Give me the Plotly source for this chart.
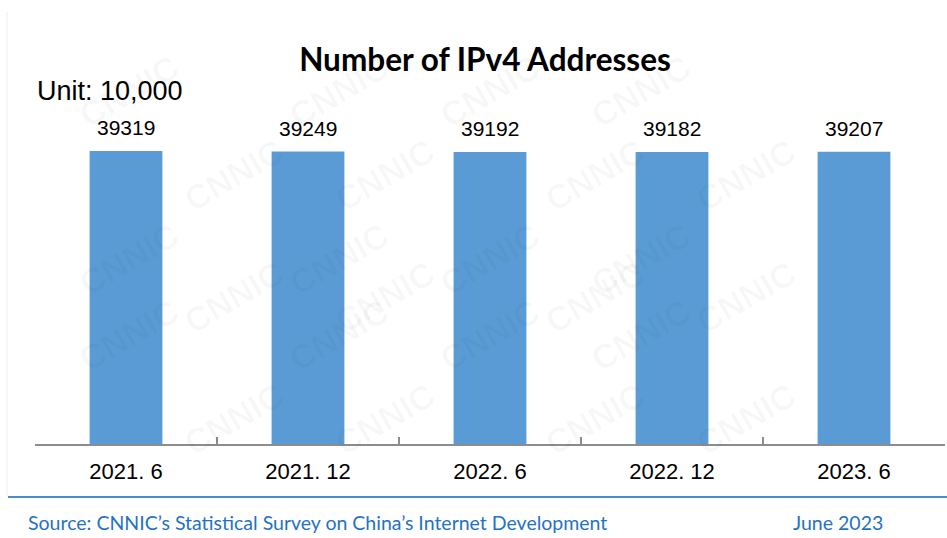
import plotly.graph_objects as go

categories = ["2021. 6", "2021. 12", "2022. 6", "2022. 12", "2023. 6"]
values = [39319, 39249, 39192, 39182, 39207]

title_text = "Number of IPv4 Addresses"
unit_text = "Unit: 10,000"
source_text = "Source: CNNIC\u2019s Statistical Survey on China\u2019s Internet Development"
date_text = "June 2023"
watermark_text = "CNNIC"

W, H = 947, 538
L, R, T, B = 35, 2, 100, 94
plot_h = H - T - B
plot_w = W - L - R

def py(p):  # pixel y -> paper y
    return (H - B - p) / plot_h

def px(p):  # pixel x -> paper x
    return (p - L) / plot_w

fig = go.Figure()
fig.add_trace(go.Bar(
    x=categories, y=values, width=0.4,
    marker=dict(color="#5b9bd5", line=dict(width=0)),
    hoverinfo="x+y",
))

annotations = []
# faint diagonal watermark grid
for row in range(6):
    for col in range(5):
        xp = 70 + col * 210 + (row % 2) * 105
        yp = 45 + row * 84
        if xp > 900 or yp > 510:
            continue
        annotations.append(dict(
            xref="paper", yref="paper", x=px(xp), y=py(yp),
            text="<b>" + watermark_text + "</b>", showarrow=False, textangle=-30,
            font=dict(family="Liberation Sans", size=34, color="rgba(0,0,0,0.03)"),
        ))

for c, v in zip(categories, values):
    annotations.append(dict(
        x=c, y=v, xref="x", yref="y", text=str(v), showarrow=False,
        yanchor="bottom", yshift=10,
        font=dict(family="Liberation Sans", size=21, color="#000000"),
    ))

annotations.append(dict(
    xref="paper", yref="paper", x=px(35), y=py(91), xanchor="left", yanchor="middle",
    text=unit_text, showarrow=False,
    font=dict(family="Liberation Sans", size=27, color="#000000"),
))
annotations.append(dict(
    xref="paper", yref="paper", x=px(26), y=py(522), xanchor="left", yanchor="middle",
    text=source_text, showarrow=False,
    font=dict(family="Lato", size=19.5, color="#1f73c4"),
))
annotations.append(dict(
    xref="paper", yref="paper", x=px(885), y=py(522), xanchor="right", yanchor="middle",
    text=date_text, showarrow=False,
    font=dict(family="Lato", size=19.5, color="#1f73c4"),
))

fig.update_layout(
    width=W, height=H,
    margin=dict(l=L, r=R, t=T, b=B),
    paper_bgcolor="white", plot_bgcolor="rgba(0,0,0,0)",
    showlegend=False,
    title=dict(
        text="<b>" + title_text + "</b>", x=px(485), xref="paper", xanchor="center",
        y=1 - 60 / H, yref="container", yanchor="middle",
        font=dict(family="Lato", size=31.5, color="#000000"),
    ),
    annotations=annotations,
    shapes=[
        dict(type="line", xref="paper", yref="paper",
             x0=px(8), x1=px(947), y0=py(497), y1=py(497),
             line=dict(color="#4a8bd0", width=2)),
        dict(type="line", xref="paper", yref="paper",
             x0=px(7), x1=px(7), y0=py(12), y1=py(496),
             line=dict(color="#eeeeee", width=1)),
    ],
)

fig.update_xaxes(
    type="category", range=[-0.5, 4.5],
    showline=True, linecolor="#8c8c8c", linewidth=1.5,
    ticks="inside", tickson="boundaries", ticklen=7, tickcolor="#8c8c8c", tickwidth=1.5,
    tickfont=dict(family="Liberation Sans", size=22, color="#000000"),
    ticklabelstandoff=7,
    showgrid=False, zeroline=False,
)
fig.update_yaxes(
    range=[0, 39319 * plot_h / 293],
    visible=False, showgrid=False, zeroline=False,
)

fig.write_html("out.html", config={"displayModeBar": False},
               post_script="document.body.style.margin='0';")
